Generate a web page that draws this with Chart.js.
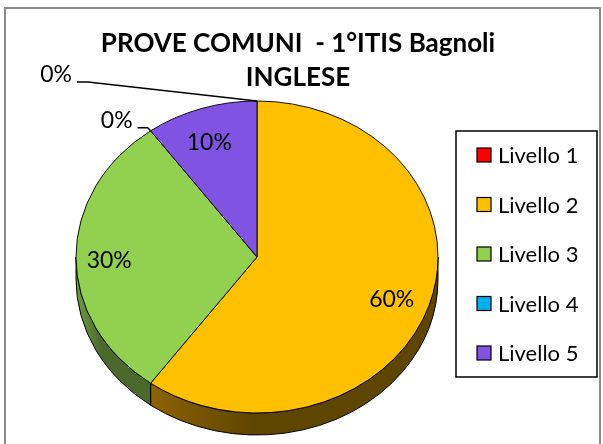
<!DOCTYPE html>
<html>
<head>
<meta charset="utf-8">
<script src="https://cdn.jsdelivr.net/npm/chart.js@4.4.0/dist/chart.umd.min.js"></script>
<style>
  html, body { margin: 0; padding: 0; background: #fff; }
  canvas { display: block; }
</style>
</head>
<body>
<canvas id="myChart" width="603" height="444"></canvas>
<script>
var titleLines = ['PROVE COMUNI  - 1°ITIS Bagnoli', 'INGLESE'];
var labels = ['Livello 1', 'Livello 2', 'Livello 3', 'Livello 4', 'Livello 5'];
var values = [0, 60, 30, 0, 10];
var colors = ['#FF0000', '#FFC000', '#92D050', '#00B0F0', '#8053E2'];
// side of the disc, [light end, dark end]
var sideColors = [['#900000', '#600000'], ['#8E6300', '#5F4600'], ['#6E9D3C', '#4A6A2B'], ['#0080A8', '#005570'], ['#5A38A0', '#3A2070']];

var RX = 181, RY = 156, DEPTH = 22;
var FONT = 'Lato, "Open Sans", sans-serif';
// leader lines for the 0% labels: elbow dx, elbow dy, tail length
var leaders = [[-169, -19, 11], null, null, [-3, -3, 10], null];

var total = values.reduce(function (a, b) { return a + b; }, 0);

var pie3d = {
  id: 'pie3d',
  beforeDraw: function (chart) {
    var ctx = chart.ctx;
    ctx.save();
    ctx.fillStyle = '#fff';
    ctx.fillRect(0, 0, chart.width, chart.height);
    ctx.strokeStyle = '#8c8c8c';
    ctx.lineWidth = 2;
    ctx.strokeRect(5, 8, 595, 450);
    ctx.restore();
  },
  beforeDatasetsDraw: function (chart) {
    var ctx = chart.ctx;
    var arcs = chart.getDatasetMeta(0).data;
    var cx = arcs[0].x, cy = arcs[0].y;
    ctx.save();
    arcs.forEach(function (arc, i) {
      var a0 = Math.max(arc.startAngle, 0), a1 = Math.min(arc.endAngle, Math.PI);
      if (a1 <= a0 || values[i] === 0) return;
      var x0 = cx + Math.cos(a0) * RX, x1 = cx + Math.cos(a1) * RX;
      var g = ctx.createLinearGradient(x1, 0, x0, 0);
      g.addColorStop(0, sideColors[i][0]);
      g.addColorStop(0.35, sideColors[i][1]);
      g.addColorStop(1, sideColors[i][1]);
      ctx.beginPath();
      ctx.ellipse(cx, cy, RX, RY, 0, a0, a1);
      ctx.ellipse(cx, cy + DEPTH, RX, RY, 0, a1, a0, true);
      ctx.closePath();
      ctx.fillStyle = g;
      ctx.fill();
      ctx.strokeStyle = '#000';
      ctx.lineWidth = 1;
      ctx.stroke();
    });
    ctx.restore();
    // squash the top face into an ellipse
    ctx.save();
    ctx.translate(cx, cy);
    ctx.scale(1, RY / RX);
    ctx.translate(-cx, -cy);
  },
  afterDatasetsDraw: function (chart) {
    var ctx = chart.ctx;
    ctx.restore();
    var arcs = chart.getDatasetMeta(0).data;
    var cx = arcs[0].x, cy = arcs[0].y;
    ctx.save();
    ctx.font = '23px ' + FONT;
    ctx.fillStyle = '#000';
    ctx.textBaseline = 'middle';
    arcs.forEach(function (arc, i) {
      var txt = Math.round(values[i] / total * 100) + '%';
      if (values[i] > 0) {
        var m = (arc.startAngle + arc.endAngle) / 2;
        ctx.textAlign = 'center';
        ctx.fillText(txt, cx + Math.cos(m) * RX * 0.8 - 3, cy + Math.sin(m) * RY * 0.8 + 4);
      } else if (leaders[i]) {
        var px = cx + Math.cos(arc.startAngle) * RX, py = cy + Math.sin(arc.startAngle) * RY;
        var ex = px + leaders[i][0], ey = py + leaders[i][1];
        ctx.beginPath();
        ctx.moveTo(px, py);
        ctx.lineTo(ex, ey);
        ctx.lineTo(ex - leaders[i][2], ey);
        ctx.strokeStyle = '#000';
        ctx.lineWidth = 1.5;
        ctx.stroke();
        ctx.textAlign = 'right';
        ctx.fillText(txt, ex - leaders[i][2] - 5, ey - 7);
      }
    });
    ctx.restore();
  },
  afterDraw: function (chart) {
    var ctx = chart.ctx;
    ctx.save();
    ctx.fillStyle = '#000';
    ctx.textAlign = 'center';
    ctx.textBaseline = 'alphabetic';
    ctx.font = 'bold 26px ' + FONT;
    ctx.fillText(titleLines[0], 298, 52);
    ctx.fillText(titleLines[1], 298, 86);
    // legend
    ctx.strokeStyle = '#000';
    ctx.lineWidth = 1.5;
    ctx.strokeRect(456, 131, 141, 246);
    ctx.font = '22px ' + FONT;
    ctx.textAlign = 'left';
    ctx.textBaseline = 'middle';
    labels.forEach(function (lab, i) {
      var y = 155 + i * 49.5;
      ctx.fillStyle = colors[i];
      ctx.fillRect(477, y - 7, 14, 14);
      ctx.lineWidth = 1.2;
      ctx.strokeRect(477, y - 7, 14, 14);
      ctx.fillStyle = '#000';
      ctx.fillText(lab, 498, y + 1);
    });
    ctx.restore();
  }
};

new Chart(document.getElementById('myChart').getContext('2d'), {
  type: 'pie',
  data: {
    labels: labels,
    datasets: [{
      data: values,
      backgroundColor: colors,
      borderColor: '#000',
      borderWidth: 1,
      radius: RX
    }]
  },
  options: {
    responsive: false,
    animation: false,
    layout: { padding: { left: 0, right: 89, top: 70, bottom: 0 } },
    plugins: {
      legend: { display: false },
      title: { display: false },
      tooltip: { enabled: false }
    }
  },
  plugins: [pie3d]
});
</script>
</body>
</html>
